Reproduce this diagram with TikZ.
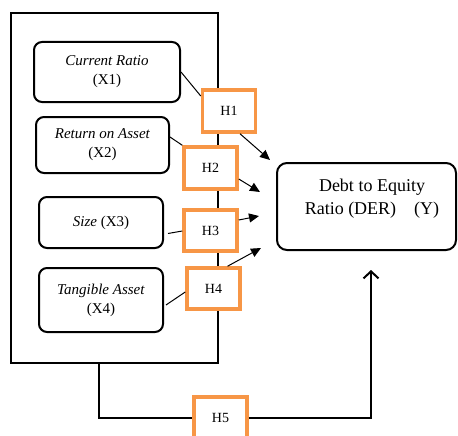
\documentclass[tikz,border=0pt]{standalone}
\usepackage{fontspec}
\setmainfont{Liberation Serif}
\usetikzlibrary{arrows.meta}
\definecolor{hor}{RGB}{247,150,70}
\begin{document}
\begin{tikzpicture}[x=1pt,y=-1pt,
  varbox/.style={draw,line width=2pt,rounded corners=8pt,align=center,inner sep=0pt,font=\fontsize{15}{19}\selectfont},
  hbox/.style={draw=hor,line width=3.5pt,fill=white,inner sep=0pt,minimum width=53pt,minimum height=42pt,font=\fontsize{14}{16}\selectfont},
  thinline/.style={line width=1pt},
  arr/.style={line width=1pt,-{Triangle[length=10pt,width=9pt]}},
  thickline/.style={line width=2pt}]
\useasboundingbox (0,0) rectangle (458,436);
\node[draw,line width=2pt,minimum width=207pt,minimum height=350pt,inner sep=0pt] (outer) at (114.5,188) {};
\node[varbox,minimum width=146pt,minimum height=60pt] (x1) at (107,72) {\textit{Current Ratio}\\(X1)};
\node[varbox,minimum width=133pt,minimum height=56pt] (x2) at (102.5,145) {\textit{Return on Asset}\\(X2)};
\node[varbox,minimum width=124pt,minimum height=51pt] (x3) at (101,222.5) {\textit{Size} (X3)};
\node[varbox,minimum width=124pt,minimum height=64pt] (x4) at (101,300) {\textit{Tangible Asset}\\(X4)};
\node[hbox] (h1) at (229,111) {H1};
\node[hbox] (h2) at (210.5,168) {H2};
\node[hbox,minimum height=41pt] (h3) at (210.5,230.5) {H3};
\node[hbox,minimum height=41pt] (h4) at (213.5,288.5) {H4};
\node[hbox] (h5) at (220.5,418) {H5};
\node[draw,line width=2pt,rounded corners=10pt,minimum width=179pt,minimum height=87pt,inner sep=0pt] (der) at (366.5,206.5) {};
\node[align=center,font=\fontsize{18}{23}\selectfont,inner sep=0pt] (dertext) at (372,198.5) {Debt to Equity\\Ratio (DER)\quad(Y)};
\coordinate (e1) at (270,160);
\coordinate (e2) at (260,192);
\coordinate (e3) at (259,216);
\coordinate (e4) at (261,248);
\coordinate (e5) at (371,270);
\draw[thinline] (x1.east) -- ([yshift=15pt]h1.west);
\draw[thinline] ([yshift=8pt]x2.east) -- (h2.north west);
\draw[thinline] ([xshift=4pt,yshift=-11pt]x3.east) -- ([yshift=-0.5pt]h3.west);
\draw[thinline] ([xshift=2pt,yshift=-5pt]x4.east) -- ([yshift=-3.5pt]h4.west);
\draw[arr] ([xshift=11pt]h1.south) -- (e1);
\draw[arr] ([yshift=-11pt]h2.east) -- (e2);
\draw[arr] ([yshift=10.5pt]h3.east) -- (e3);
\draw[arr] ([xshift=14pt]h4.north) -- (e4);
\draw[thickline] ([xshift=-15.5pt]outer.south) |- (h5.west);
\draw[thickline,-{Straight Barb[length=7pt,width=15pt]}] (h5.east) -| (e5);
\end{tikzpicture}
\end{document}
